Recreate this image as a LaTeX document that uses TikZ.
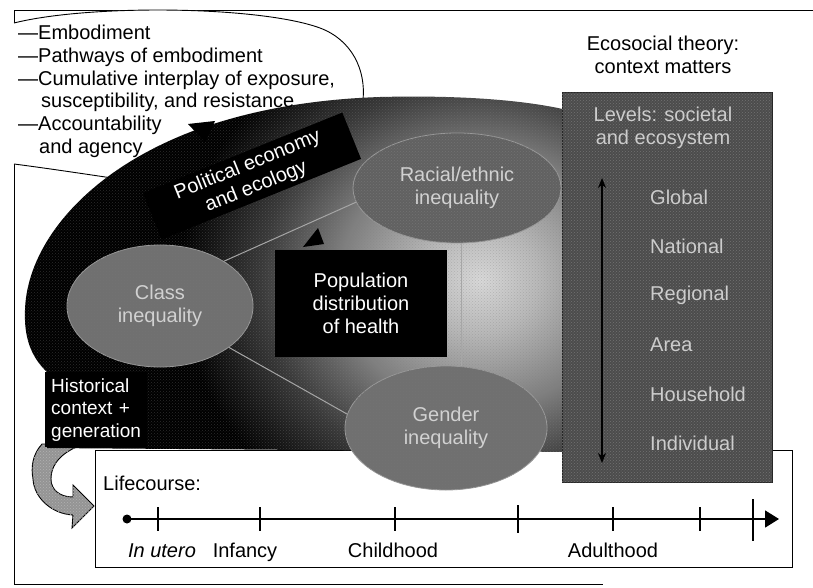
\documentclass[tikz,border=0pt]{standalone}
\usepackage{fontspec}
\setmainfont{Liberation Sans}
\usetikzlibrary{arrows.meta,calc,shapes.geometric,patterns}
\pgfdeclareradialshading{glow}{\pgfpoint{0bp}{0bp}}{color(0bp)=(white!85!black); color(3bp)=(white!72!black); color(7bp)=(black!50); color(11bp)=(black!78); color(15bp)=(black); color(50bp)=(black)}
\begin{document}
\begin{tikzpicture}[x=1pt,y=-1pt,
  font=\fontsize{20}{23}\selectfont,
  ell/.style={ellipse, fill=black!56, draw=white!60!black, line width=0.8pt,
    text=white!82!black, align=center, inner sep=0pt,
    postaction={pattern=crosshatch dots, pattern color=white!45!black}},
  link/.style={draw=white!65!black, line width=1pt},
  listtxt/.style={anchor=base west, inner sep=0pt},
  lvl/.style={anchor=west, inner sep=0pt, text=white!80!black},
  tick/.style={line width=1.2pt},
  lctxt/.style={anchor=base, inner sep=0pt}]
\useasboundingbox (0,0) rectangle (813,588);
% outer frame
\draw[line width=1pt] (813,11) -- (14,11) -- (14,584) -- (603,584);
% list bubble
\draw[fill=white, line width=0.9pt] (14,164) .. controls (45,168) and (85,174) .. (112,178)
  -- (250,150) -- (363,100)
  .. controls (366,70) and (352,40) .. (320,28)
  .. controls (260,6) and (90,4) .. (14,23);
% lifecourse box
\draw[fill=white, line width=0.9pt] (95,450) rectangle (792,567);
% historical arrow
\draw[fill=black!42, line width=0.9pt, postaction={pattern=crosshatch dots, pattern color=white!70!black}]
  (42,444) .. controls (32,455) and (31,468) .. (33,479)
  .. controls (34,498) and (52,514) .. (73,515) -- (72,528) -- (94,506) -- (73,485) -- (73,497)
  .. controls (60,497) and (51,490) .. (51,479) .. controls (51,462) and (65,450) .. (85,444) -- cycle;
% dark shape with gradient
\def\darkshape{(47,448) -- (47,372) .. controls (30,356) and (24,336) .. (25,310)
  .. controls (27,245) and (85,172) .. (193,131) .. controls (255,108) and (320,99) .. (380,97)
  .. controls (460,95) and (530,100) .. (575,112) -- (575,452) -- cycle}
\begin{scope}
  \clip \darkshape;
  \shade[shading=glow] (480,280) ellipse (500 and 450);
  \fill[pattern=crosshatch dots, pattern color=white!50!black, opacity=0.35] \darkshape;
\end{scope}
% arrowhead of the political economy band
\fill[black] (188,124) -- (215,121) -- (205,142) -- cycle;
% banner
\node[fill=black, text=white, rotate=22, minimum width=215pt, minimum height=50pt,
  align=center, inner sep=2pt] (pe) at (252,176) {Political economy\\and ecology};
% ellipses
\node[ell, minimum width=186pt, minimum height=122pt] (class) at (160,306) {Class\\inequality};
\node[ell, fill=black!62, minimum width=208pt, minimum height=110pt] (racial) at (457,188) {Racial/ethnic\\inequality};
\node[ell, minimum width=202pt, minimum height=124pt] (gender) at (446,428) {Gender\\inequality};
% links
\draw[link] (class.35) -- (racial.188);
\draw[link] (class.-31) -- (gender.172);
\draw[link] (racial.275) -- (racial.275 |- gender.north);
% population box
\node[fill=black, text=white, minimum width=172pt, minimum height=107pt, align=center,
  inner sep=0pt] (pop) at (361,303.5) {Population\\distribution\\of health};
\fill[black] (303,247) -- (324,244) -- (318,228) -- cycle;
% historical box
\node[fill=black, text=white, anchor=north west, minimum width=102pt, minimum height=75pt,
  text width=90pt, align=left, inner xsep=6pt, inner ysep=0pt,
  font=\fontsize{19}{22.5}\selectfont] (hist) at (45,372) {Historical\\context +\\generation};
% levels box
\node[fill=black!70, draw=black!85, anchor=north west, minimum width=210pt, minimum height=390pt,
  inner sep=0pt, postaction={pattern=crosshatch dots, pattern color=white!45!black}] (levels) at (562,92) {};
\node[align=center, text=white!80!black, inner sep=0pt] (lvtitle) at (663,128) {Levels: societal\\and ecosystem};
\coordinate (atop) at (602,178);
\coordinate (abot) at (602,463);
\draw[{Stealth[length=10pt,width=8pt]}-{Stealth[length=10pt,width=8pt]}, line width=1.4pt] (atop) -- (abot);
\node[lvl] (glob) at (650,197) {Global};
\node[lvl] (nat) at (650,246) {National};
\node[lvl] (reg) at (650,295) {Regional};
\node[lvl] (area) at (650,345) {Area};
\node[lvl] (hh) at (650,394) {Household};
\node[lvl] (ind) at (650,443) {Individual};
% title
\node[align=center, inner sep=0pt] (title) at (663,55) {Ecosocial theory:\\context matters};
% list text
\node[listtxt] (l1) at (18,40) {—Embodiment};
\node[listtxt] (l2) at (18,63) {—Pathways of embodiment};
\node[listtxt] (l3) at (18,86) {—Cumulative interplay of exposure,};
\node[listtxt] (l4) at (41,108) {susceptibility, and resistance};
\node[listtxt] (l5) at (18,131) {—Accountability};
\node[listtxt] (l6) at (39,154) {and agency};
% lifecourse
\node[listtxt] (lc) at (103,490) {Lifecourse:};
\coordinate (tstart) at (127,519);
\coordinate (tend) at (779,519);
\fill (tstart) circle (4.5);
\draw[line width=1.6pt, -{Triangle[length=14pt,width=17pt]}] (tstart) -- (tend);
\foreach \x in {158,260,395,613,700} \draw[tick] (\x,507) -- (\x,531);
\draw[line width=2pt] (518,505) -- (518,533);
\draw[line width=1.8pt] (753,499) -- (753,541);
\node[lctxt, font=\fontsize{20}{23}\selectfont\itshape] (iu) at (162,557) {In utero};
\node[lctxt] (inf) at (245,557) {Infancy};
\node[lctxt] (ch) at (393,557) {Childhood};
\node[lctxt] (ad) at (613,557) {Adulthood};
\end{tikzpicture}
\end{document}
